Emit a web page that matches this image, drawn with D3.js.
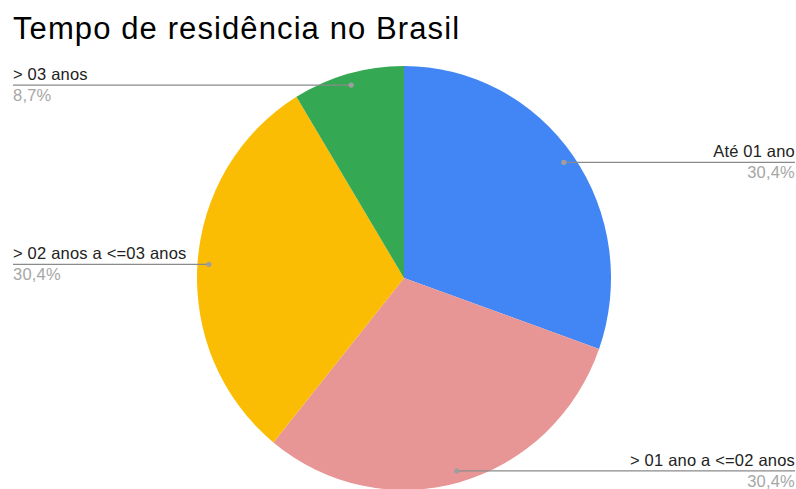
<!DOCTYPE html>
<html>
<head>
<meta charset="utf-8">
<script src="https://cdn.jsdelivr.net/npm/d3@7"></script>
<style>
	body { margin: 0; background: #fff; }
	svg text { font-family: Arial, "Liberation Sans", sans-serif; }
</style>
</head>
<body>
<div id="pieChart"></div>
<script>
var categories = ["Até 01 ano", "> 01 ano a <=02 anos", "> 02 anos a <=03 anos", "> 03 anos"];
var counts = [7, 7, 7, 2];
var percentLabels = ["30,4%", "30,4%", "30,4%", "8,7%"];
var colors = ["#4285f4", "#e79695", "#fbbc04", "#34a853"];

function drawPieChart() {
	var width = 796,
		height = 489,
		cx = 404,
		cy = 278,
		rx = 207,
		ry = 212;

	var svg = d3.select("#pieChart")
		.append("svg")
		.attr("width", width)
		.attr("height", height);

	svg.append("text")
		.attr("x", 13)
		.attr("y", 39)
		.attr("font-size", "31px")
		.attr("letter-spacing", "1.1px")
		.attr("fill", "#000")
		.text("Tempo de residência no Brasil");

	var data = categories.map(function (c, i) {
		return { name: c, value: counts[i], pct: percentLabels[i], color: colors[i] };
	});

	var pie = d3.pie().sort(null).value(function (d) { return d.value; });
	var arc = d3.arc().innerRadius(0).outerRadius(rx);
	var dotArc = d3.arc().innerRadius(rx * 0.945).outerRadius(rx * 0.945);
	var sy = ry / rx;

	var g = svg.append("g")
		.attr("transform", "translate(" + cx + "," + cy + ") scale(1," + sy + ")");

	var arcs = pie(data);

	g.selectAll("path")
		.data(arcs)
		.enter().append("path")
		.attr("d", arc)
		.attr("fill", function (d) { return d.data.color; });

	// leader lines and labels
	arcs.forEach(function (d) {
		var p = dotArc.centroid(d);
		var px = cx + p[0], py = cy + p[1] * sy;
		var mid = (d.startAngle + d.endAngle) / 2;
		var right = mid < Math.PI;
		var edge = right ? 795 : 13;

		svg.append("line")
			.attr("x1", px).attr("y1", py)
			.attr("x2", edge).attr("y2", py)
			.attr("stroke", "#8a8a8a")
			.attr("stroke-width", 1.3);
		svg.append("circle")
			.attr("cx", px).attr("cy", py)
			.attr("r", 2.6)
			.attr("fill", "#9e9e9e");
		svg.append("text")
			.attr("x", edge).attr("y", py - 5)
			.attr("text-anchor", right ? "end" : "start")
			.attr("font-size", "16.5px")
			.attr("letter-spacing", "0.2px")
			.attr("fill", "#222")
			.text(d.data.name);
		svg.append("text")
			.attr("x", edge).attr("y", py + 16)
			.attr("text-anchor", right ? "end" : "start")
			.attr("font-size", "16.5px")
			.attr("letter-spacing", "0.2px")
			.attr("fill", "#a6a6a6")
			.text(d.data.pct);
	});
}

drawPieChart();
</script>
</body>
</html>
